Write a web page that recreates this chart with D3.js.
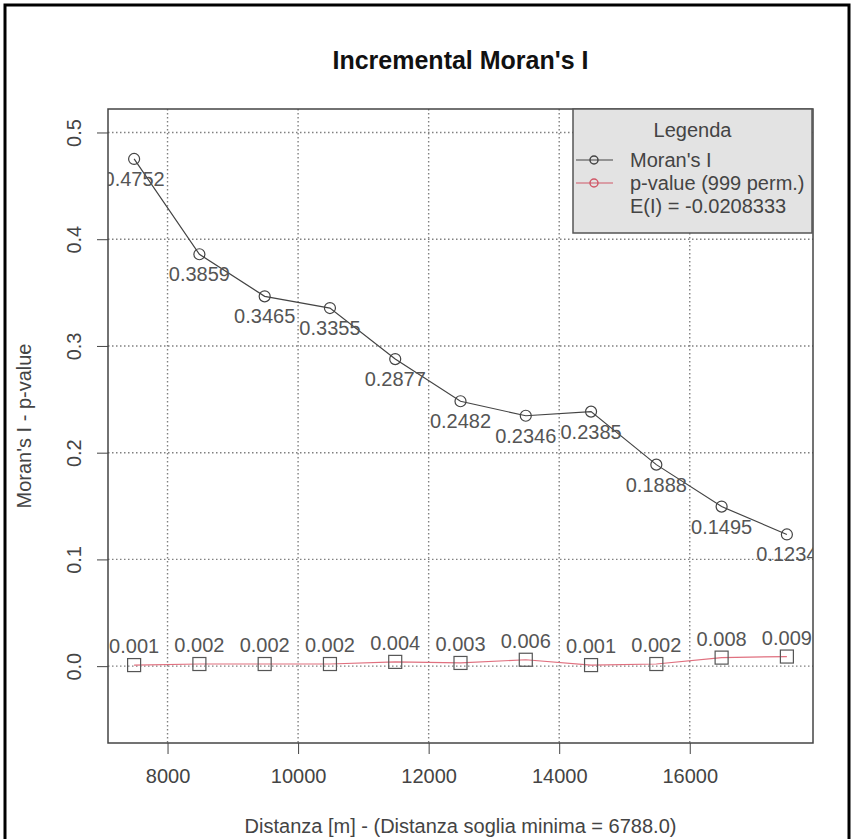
<!DOCTYPE html>
<html>
<head>
<meta charset="utf-8">
<script src="https://cdn.jsdelivr.net/npm/d3@7"></script>
<style>
  html, body { margin: 0; padding: 0; background: #fff; }
  svg { display: block; }
  text { font-family: "Liberation Sans", Arial, sans-serif; }
</style>
</head>
<body>
<svg id="chart" width="853" height="839"></svg>
<script>
// ---- data ----
const distances = [7488, 8488, 9488, 10488, 11488, 12488, 13488, 14488, 15488, 16488, 17488];
const moranI    = [0.4752, 0.3859, 0.3465, 0.3355, 0.2877, 0.2482, 0.2346, 0.2385, 0.1888, 0.1495, 0.1234];
const pValues   = [0.001, 0.002, 0.002, 0.002, 0.004, 0.003, 0.006, 0.001, 0.002, 0.008, 0.009];
const xTicks    = [8000, 10000, 12000, 14000, 16000];
const yTicks    = [0.0, 0.1, 0.2, 0.3, 0.4, 0.5];
const legendLabels = ["Moran's I", "p-value (999 perm.)", "E(I) = -0.0208333"];
const titleText = "Incremental Moran's I";
const xLabel = "Distanza [m] - (Distanza soglia minima = 6788.0)";
const yLabel = "Moran's I - p-value";

// ---- layout ----
const svg = d3.select("#chart");
const plot = { left: 108, right: 813, top: 109, bottom: 743 };
const xRange = [7088, 17888];
const yRange = [-0.072, 0.522];
const fs = 20;

const x = d3.scaleLinear().domain(xRange).range([plot.left, plot.right]);
const y = d3.scaleLinear().domain(yRange).range([plot.bottom, plot.top]);

// outer frame
svg.append("rect").attr("x", 5).attr("y", 5).attr("width", 844).attr("height", 845)
  .attr("fill", "none").attr("stroke", "#000").attr("stroke-width", 3);

// clip
svg.append("defs").append("clipPath").attr("id", "plotclip")
  .append("rect").attr("x", plot.left).attr("y", plot.top)
  .attr("width", plot.right - plot.left).attr("height", plot.bottom - plot.top);

// grid
const grid = svg.append("g").attr("clip-path", "url(#plotclip)");
grid.selectAll("line.gx").data(xTicks).join("line")
  .attr("x1", d => x(d)).attr("x2", d => x(d))
  .attr("y1", plot.top).attr("y2", plot.bottom)
  .attr("stroke", "#808080").attr("stroke-width", 1.4).attr("stroke-dasharray", "1.5,2.5");
grid.selectAll("line.gy").data(yTicks).join("line")
  .attr("y1", d => y(d)).attr("y2", d => y(d))
  .attr("x1", plot.left).attr("x2", plot.right)
  .attr("stroke", "#808080").attr("stroke-width", 1.4).attr("stroke-dasharray", "1.5,2.5");

// axes
const xAxis = d3.axisBottom(x).tickValues(xTicks).tickSize(11).tickPadding(15).tickFormat(d3.format("d"));
const gx = svg.append("g").attr("transform", `translate(0,${plot.bottom})`).call(xAxis);
gx.select(".domain").remove();
gx.selectAll("line").attr("stroke", "#444");
gx.selectAll("text").attr("font-size", fs).attr("fill", "#444")
  .attr("font-family", "Liberation Sans, Arial, sans-serif");

const yAxis = d3.axisLeft(y).tickValues(yTicks).tickSize(11).tickFormat(d3.format(".1f"));
const gy = svg.append("g").attr("transform", `translate(${plot.left},0)`).call(yAxis);
gy.select(".domain").remove();
gy.selectAll("line").attr("stroke", "#444");
gy.selectAll("text")
  .attr("font-size", fs).attr("fill", "#444")
  .attr("font-family", "Liberation Sans, Arial, sans-serif")
  .attr("x", 0).attr("dy", 0)
  .attr("text-anchor", "middle")
  .attr("transform", "translate(-27,0) rotate(-90)");

// plot box
svg.append("rect").attr("x", plot.left).attr("y", plot.top)
  .attr("width", plot.right - plot.left).attr("height", plot.bottom - plot.top)
  .attr("fill", "none").attr("stroke", "#444").attr("stroke-width", 1.5);

// series
const data = distances.map((d, i) => ({ d, m: moranI[i], p: pValues[i] }));
const content = svg.append("g").attr("clip-path", "url(#plotclip)");

// p-value line
content.append("path").datum(data)
  .attr("d", d3.line().x(d => x(d.d)).y(d => y(d.p)))
  .attr("fill", "none").attr("stroke", "#e0707f").attr("stroke-width", 1.2);
content.selectAll("rect.pv").data(data).join("rect")
  .attr("x", d => x(d.d) - 6.5).attr("y", d => y(d.p) - 6.5)
  .attr("width", 13).attr("height", 13)
  .attr("fill", "none").attr("stroke", "#555").attr("stroke-width", 1.2);
content.selectAll("text.pv").data(data).join("text")
  .attr("x", d => x(d.d)).attr("y", d => y(d.p) - 12)
  .attr("text-anchor", "middle").attr("font-size", fs).attr("fill", "#555")
  .text(d => d3.format(".3f")(d.p));

// Moran's I line
content.append("path").datum(data)
  .attr("d", d3.line().x(d => x(d.d)).y(d => y(d.m)))
  .attr("fill", "none").attr("stroke", "#444").attr("stroke-width", 1.2);
content.selectAll("circle.mi").data(data).join("circle")
  .attr("cx", d => x(d.d)).attr("cy", d => y(d.m)).attr("r", 5.5)
  .attr("fill", "none").attr("stroke", "#444").attr("stroke-width", 1.2);
content.selectAll("text.mi").data(data).join("text")
  .attr("x", d => x(d.d)).attr("y", d => y(d.m) + 27)
  .attr("text-anchor", "middle").attr("font-size", fs).attr("fill", "#555")
  .text(d => d3.format(".4f")(d.m));

// title and axis labels
svg.append("text").attr("x", (plot.left + plot.right) / 2).attr("y", 69)
  .attr("text-anchor", "middle").attr("font-size", 25).attr("font-weight", "bold")
  .attr("fill", "#111").text(titleText);
svg.append("text").attr("x", (plot.left + plot.right) / 2).attr("y", 833)
  .attr("text-anchor", "middle").attr("font-size", fs).attr("fill", "#444").text(xLabel);
svg.append("text").attr("transform", `translate(31,${(plot.top + plot.bottom) / 2}) rotate(-90)`)
  .attr("text-anchor", "middle").attr("font-size", fs).attr("fill", "#444").text(yLabel);

// legend
const lg = { x: 573, y: 109, w: 239, h: 124 };
const legend = svg.append("g");
legend.append("rect").attr("x", lg.x).attr("y", lg.y).attr("width", lg.w).attr("height", lg.h)
  .attr("fill", "#e3e3e3").attr("stroke", "#555").attr("stroke-width", 1.5);
legend.append("text").attr("x", lg.x + lg.w / 2).attr("y", 137)
  .attr("text-anchor", "middle").attr("font-size", fs).attr("fill", "#444").text("Legenda");
const rowY = [160, 183, 206];
const rowColors = ["#444", "#d05868", null];
legendLabels.forEach((lab, i) => {
  if (rowColors[i]) {
    legend.append("line").attr("x1", lg.x + 3).attr("x2", lg.x + 40)
      .attr("y1", rowY[i]).attr("y2", rowY[i]).attr("stroke", rowColors[i]).attr("stroke-width", 1.2);
    legend.append("circle").attr("cx", lg.x + 21).attr("cy", rowY[i]).attr("r", 4)
      .attr("fill", "none").attr("stroke", rowColors[i]).attr("stroke-width", 1.5);
  }
  legend.append("text").attr("x", lg.x + 57).attr("y", rowY[i] + 7)
    .attr("font-size", fs).attr("fill", "#444").text(lab);
});
</script>
</body>
</html>
